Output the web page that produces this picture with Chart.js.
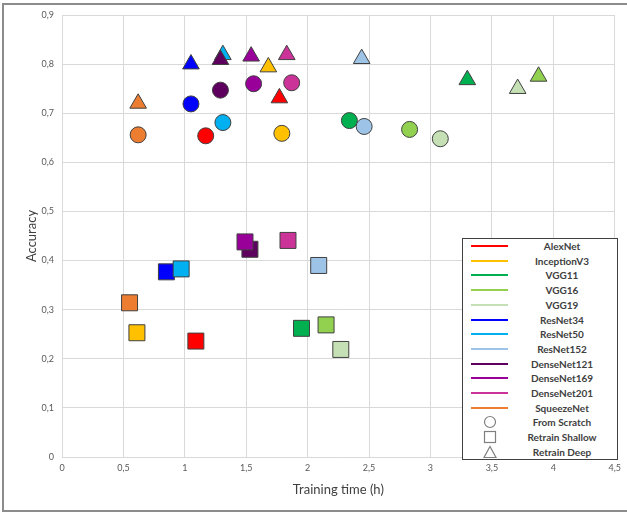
<!DOCTYPE html>
<html>
<head>
<meta charset="utf-8">
<script src="https://cdn.jsdelivr.net/npm/chart.js@4/dist/chart.umd.min.js"></script>
<style>
  html, body { margin: 0; padding: 0; background: #fff; }
  #wrap { position: relative; width: 627px; height: 512px; }
  #frame { position: absolute; left: 2px; top: 3px; width: 630px; height: 505px;
           border: 2px solid #8c8c8c; pointer-events: none; }
  #legend { position: absolute; left: 462px; top: 238px; width: 154px; height: 220px;
            background: #fff; border: 1px solid #404040;
            font-family: Lato, "Open Sans", sans-serif; font-size: 10px; font-weight: bold; color: #404040; }
  .row { position: absolute; left: 0; width: 154px; height: 14px; }
  .row .ln { position: absolute; left: 8px; top: 6px; width: 37px; height: 2px; }
  .row .tx { position: absolute; left: 50px; right: 6px; text-align: center; top: 0; line-height: 14px; }
  .row svg { position: absolute; left: 20px; top: 0; }
</style>
</head>
<body>
<div id="wrap">
  <canvas id="grafico" width="627" height="512"></canvas>
  <div id="legend"></div>
  <div id="frame"></div>
</div>
<script>
// modelos e cores
const models = ["AlexNet", "InceptionV3", "VGG11", "VGG16", "VGG19", "ResNet34", "ResNet50",
  "ResNet152", "DenseNet121", "DenseNet169", "DenseNet201", "SqueezeNet"];
const colors = ["#FF0000", "#FFC000", "#00B050", "#92D050", "#C5E0B4", "#0000FF", "#00B0F0",
  "#9DC3E6", "#5E005E", "#990099", "#CC3399", "#ED7D31"];

// From Scratch (circulo)
const scratchTime = [1.17, 1.79, 2.34, 2.83, 3.08, 1.05, 1.31, 2.46, 1.29, 1.56, 1.87, 0.62];
const scratchAcc  = [0.654, 0.659, 0.685, 0.667, 0.648, 0.719, 0.681, 0.673, 0.747, 0.760, 0.762, 0.656];
// Retrain Shallow (quadrado)
const shallowTime = [1.09, 0.61, 1.95, 2.15, 2.27, 0.85, 0.97, 2.09, 1.53, 1.49, 1.84, 0.55];
const shallowAcc  = [0.236, 0.253, 0.262, 0.269, 0.219, 0.377, 0.383, 0.390, 0.423, 0.438, 0.441, 0.314];
// Retrain Deep (triangulo)
const deepTime = [1.77, 1.68, 3.30, 3.88, 3.71, 1.05, 1.31, 2.44, 1.29, 1.54, 1.83, 0.62];
const deepAcc  = [0.731, 0.794, 0.768, 0.775, 0.750, 0.800, 0.819, 0.811, 0.809, 0.816, 0.819, 0.720];

const methods = ["From Scratch", "Retrain Shallow", "Retrain Deep"];
const xTicks = ["0", "0,5", "1", "1,5", "2", "2,5", "3", "3,5", "4", "4,5"];
const yTicks = ["0", "0,1", "0,2", "0,3", "0,4", "0,5", "0,6", "0,7", "0,8", "0,9"];

const fontFam = "Lato, 'Open Sans', sans-serif";

const datasets = models.map((m, i) => ({
  label: m,
  data: [
    { x: scratchTime[i], y: scratchAcc[i] },
    { x: shallowTime[i], y: shallowAcc[i] },
    { x: deepTime[i], y: deepAcc[i] },
  ],
  pointStyle: ["circle", "rect", "triangle"],
  pointRadius: [8, 11.3, 9.6],
  pointHoverRadius: [8, 11.3, 9.6],
  backgroundColor: colors[i],
  borderColor: "#404040",
  pointBorderWidth: 1,
  order: models.length - i, // os ultimos ficam por cima
}));

new Chart(document.getElementById("grafico"), {
  type: "scatter",
  data: { datasets },
  options: {
    responsive: false,
    animation: false,
    layout: { padding: { left: 20, top: 15, right: 10, bottom: 12 } },
    plugins: { legend: { display: false }, tooltip: { enabled: false } },
    scales: {
      x: {
        min: 0, max: 4.5,
        afterFit: (s) => { s.height = 43; },
        grid: { color: "#d9d9d9", drawTicks: false },
        border: { color: "#d9d9d9" },
        ticks: { stepSize: 0.5, padding: 6, color: "#595959", font: { family: fontFam, size: 9 },
          callback: (v, idx) => xTicks[idx] },
        title: { display: true, text: "Training time (h)", color: "#404040",
          font: { family: fontFam, size: 13 }, padding: { top: 4, bottom: 2 } },
      },
      y: {
        min: 0, max: 0.9,
        afterFit: (s) => { s.width = 42; },
        grid: { color: "#d9d9d9", drawTicks: false },
        border: { display: false },
        ticks: { stepSize: 0.1, padding: 8, color: "#595959", font: { family: fontFam, size: 9 },
          callback: (v, idx) => yTicks[idx] },
        title: { display: true, text: "Accuracy", color: "#404040",
          font: { family: fontFam, size: 13 }, padding: { top: 4, bottom: 4 } },
      },
    },
  },
});

// legenda
const leg = document.getElementById("legend");
const shapes = [
  '<svg width="14" height="14"><circle cx="7" cy="7" r="5.5" fill="none" stroke="#7f7f7f" stroke-width="1.2"/></svg>',
  '<svg width="14" height="14"><rect x="1.5" y="1.5" width="11" height="11" fill="none" stroke="#7f7f7f" stroke-width="1.2"/></svg>',
  '<svg width="14" height="14"><polygon points="7,1.5 13,12.5 1,12.5" fill="none" stroke="#7f7f7f" stroke-width="1.2"/></svg>',
];
const labels = models.concat(methods);
labels.forEach((t, i) => {
  const r = document.createElement("div");
  r.className = "row";
  r.style.top = (0 + i * 14.7) + "px";
  const mark = i < models.length
    ? '<div class="ln" style="background:' + colors[i] + '"></div>'
    : shapes[i - models.length];
  r.innerHTML = mark + '<div class="tx">' + t + '</div>';
  leg.appendChild(r);
});
</script>
</body>
</html>
